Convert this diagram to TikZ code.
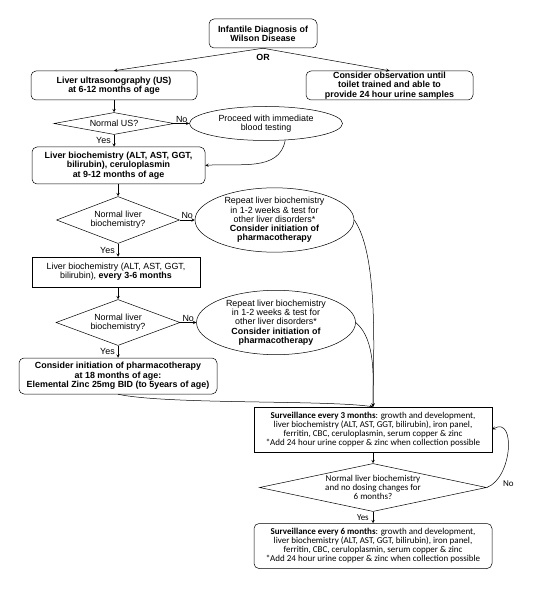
\documentclass[tikz,border=0pt]{standalone}
\usepackage{fontspec}
\setmainfont{Liberation Sans}
\newfontfamily\calibri{Carlito}
\usetikzlibrary{positioning,shapes.geometric}

\newcommand\diagfont{\fontsize{8.9}{9.3}\selectfont}
\newcommand\survfont{\calibri\fontsize{9}{9}\selectfont}

\begin{document}
\begin{tikzpicture}[node distance = 12pt, line width=0.5pt, >=stealth, font=\diagfont,
  every node/.style={align=center, inner sep=1pt},
  roundbox/.style={draw, shape=rectangle, rounded corners=5pt, font=\diagfont\bfseries},
  plainbox/.style={draw, shape=rectangle},
  decision/.style={draw, shape=diamond, inner sep=0pt},
  action/.style={draw, shape=ellipse, inner sep=0pt},
  survbox/.style={draw, shape=rectangle, minimum width=238pt, minimum height=45pt, font=\survfont},
  lbl/.style={inner sep=1pt}]

      \useasboundingbox (0pt,0pt) rectangle (543pt,-601pt);

      \node[roundbox, minimum width=108pt, minimum height=29pt] (diagnosis) at (263pt,-33.5pt) {Infantile Diagnosis of\\Wilson Disease};
      \node[lbl, font=\diagfont\bfseries, below=5pt of diagnosis] (or) {OR};

      \node[roundbox, minimum width=166pt, minimum height=29pt] (ultrasound) at (114pt,-85.5pt) {Liver ultrasonography (US)\\at 6-12 months of age};
      \node[roundbox, minimum width=167pt, minimum height=29pt] (observation) at (389.5pt,-85.5pt) {Consider observation until\\toilet trained and able to\\provide 24 hour urine samples};

      \node[decision, aspect=5.45, minimum width=120pt, minimum height=22pt, below=of ultrasound] (normalUS) {Normal US?};
      \node[action, minimum width=153pt, minimum height=34pt, right=15pt of normalUS] (bloodtest) {Proceed with immediate\\blood testing};

      \node[roundbox, minimum width=173pt, minimum height=37pt, below=of normalUS, xshift=4.5pt] (ceruloplasmin) {Liver biochemistry (ALT, AST, GGT,\\bilirubin), ceruloplasmin\\at 9-12 months of age};
      \node[decision, aspect=2.62, minimum width=123pt, minimum height=47pt, below=of ceruloplasmin, xshift=-0.5pt] (normalLiver) {Normal liver\\biochemistry?};
      \node[action, minimum width=159pt, minimum height=62pt, right=15pt of normalLiver] (repeat) {Repeat liver biochemistry\\in 1-2 weeks \& test for\\other liver disorders*\\\textbf{Consider initiation of}\\\textbf{pharmacotherapy}};

      \node[plainbox, minimum width=168pt, minimum height=30pt, below=13pt of normalLiver, xshift=-2pt] (liverperiod) {Liver biochemistry (ALT, AST, GGT,\\bilirubin), \textbf{every 3-6 months}};
      \node[decision, aspect=2.7, minimum width=124pt, minimum height=46pt, below=of liverperiod, xshift=2pt] (normalLiverB) {Normal liver\\biochemistry?};
      \node[action, minimum width=159pt, minimum height=62pt, right=16pt of normalLiverB] (repeatB) {Repeat liver biochemistry\\in 1-2 weeks \& test for\\other liver disorders*\\\textbf{Consider initiation of}\\\textbf{pharmacotherapy}};

      \node[roundbox, minimum width=198pt, minimum height=36pt, below=of normalLiverB] (zinc) {Consider initiation of pharmacotherapy\\at 18 months of age:\\Elemental Zinc 25mg BID (to 5years of age)};

      \node[survbox] (surveillance3) at (373pt,-429.5pt) {\textbf{Surveillance every 3 months}: growth and development,\\liver biochemistry (ALT, AST, GGT, bilirubin), iron panel,\\ferritin, CBC, ceruloplasmin, serum copper \& zinc\\*Add 24 hour urine copper \& zinc when collection possible};
      \node[decision, aspect=4.73, minimum width=227pt, minimum height=48pt, font=\survfont, below=11pt of surveillance3] (dosing) {Normal liver biochemistry\\and no dosing changes for\\6 months?};
      \node[survbox, rounded corners=5pt, below=11.5pt of dosing] (surveillance6) {\textbf{Surveillance every 6 months}: growth and development,\\liver biochemistry (ALT, AST, GGT, bilirubin), iron panel,\\ferritin, CBC, ceruloplasmin, serum copper \& zinc\\*Add 24 hour urine copper \& zinc when collection possible};
      \node[lbl, font=\survfont, right=15pt of dosing.east, yshift=4pt] (noDosing) {No};

      \draw [->] (diagnosis.south) -- (ultrasound.north);
      \draw [->] (diagnosis.south) -- (observation.north);

      \draw [->] (ultrasound) -- (normalUS);
      \draw [->] (normalUS.east) -- node[lbl, above] (noUS) {No} (bloodtest.west);
      \draw [->] (normalUS.south) -- node[lbl, left=2pt] (yesUS) {Yes} (normalUS.south |- ceruloplasmin.north);
      \draw [->] (bloodtest.-41) to[out=-100, in=5] (ceruloplasmin.east);

      \draw [->] (ceruloplasmin.south -| normalLiver.north) -- (normalLiver.north);
      \draw [->] (normalLiver.east) -- node[lbl, above] (noLiver) {No} (repeat.west);
      \draw [->] (normalLiver.south) -- node[lbl, left=2pt] (yesLiver) {Yes} (normalLiver.south |- liverperiod.north);

      \draw [->] (liverperiod.south -| normalLiverB.north) -- (normalLiverB.north);
      \draw [->] (normalLiverB.east) -- node[lbl, above] (noLiverB) {No} (repeatB.west);
      \draw [->] (normalLiverB.south) -- node[lbl, left=2pt] (yesLiverB) {Yes} (normalLiverB.south |- zinc.north);

      \draw [->] (repeat.east) to[out=-55, in=90, looseness=0.6] (surveillance3.north);
      \draw [->] (repeatB.east) to[out=-40, in=90, looseness=0.8] (surveillance3.north);
      \draw [->] (zinc.south) to[out=-12, in=172, looseness=0.5] (surveillance3.north);

      \draw [->] (surveillance3) -- (dosing);
      \draw [->] (dosing.east) to[out=20, in=30, looseness=1.2] (surveillance3.east);
      \draw [->] (dosing.south) -- node[lbl, font=\survfont, left=3pt] (yesDosing) {Yes} (dosing.south |- surveillance6.north);
\end{tikzpicture}
\end{document}
